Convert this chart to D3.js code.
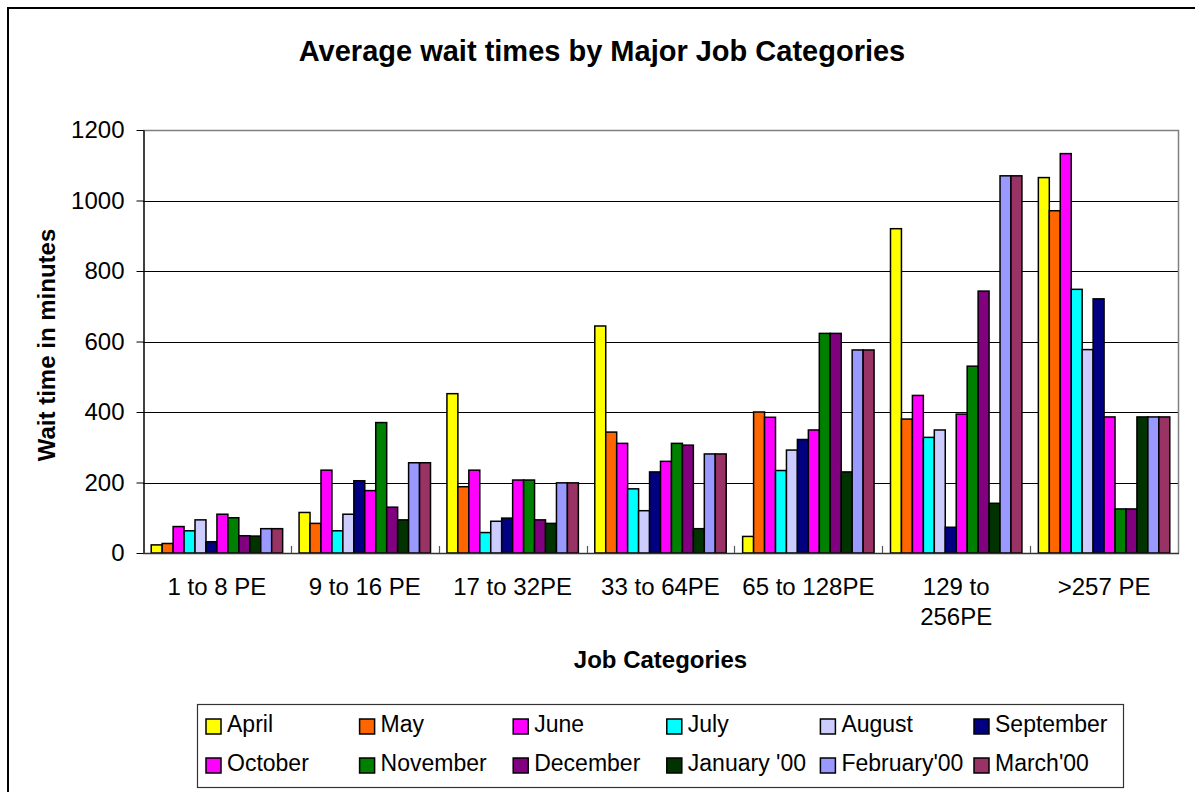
<!DOCTYPE html>
<html>
<head>
<meta charset="utf-8">
<script src="https://cdn.jsdelivr.net/npm/d3@7"></script>
<style>
  body { margin: 0; background: #fff; }
  svg { display: block; font-family: "Liberation Sans", Arial, sans-serif; }
</style>
</head>
<body>
<svg id="chart" width="1195" height="792"></svg>
<script>
// categories and series
const categories = ["1 to 8 PE", "9 to 16 PE", "17 to 32PE", "33 to 64PE", "65 to 128PE", "129 to 256PE", ">257 PE"];
const months = ["April", "May", "June", "July", "August", "September",
                "October", "November", "December", "January '00", "February'00", "March'00"];
const monthColors = ["#FFFF00", "#FF6600", "#FF00FF", "#00FFFF", "#CCCCFF", "#000080",
                     "#FF00FF", "#008000", "#800080", "#003300", "#9999FF", "#993366"];

// one array per month, values per category (minutes)
const april     = [23, 115, 452, 644, 47, 920, 1065];
const may       = [27, 84, 188, 343, 400, 380, 971];
const june      = [75, 235, 235, 311, 385, 447, 1133];
const july      = [63, 63, 58, 182, 234, 328, 748];
const august    = [94, 110, 90, 120, 292, 349, 577];
const september = [32, 205, 99, 230, 322, 73, 721];
const october   = [110, 177, 207, 260, 349, 394, 386];
const november  = [100, 370, 207, 311, 623, 530, 125];
const december  = [49, 130, 94, 306, 623, 743, 125];
const january   = [48, 94, 84, 69, 230, 141, 386];
const february  = [69, 256, 199, 281, 576, 1070, 386];
const march     = [69, 256, 199, 281, 576, 1070, 386];

const series = [april, may, june, july, august, september,
                october, november, december, january, february, march];

const yTicks = [0, 200, 400, 600, 800, 1000, 1200];

const svg = d3.select("#chart");

// outer frame (runs off the right/bottom edge like the original)
svg.append("rect")
    .attr("x", 8).attr("y", 8)
    .attr("width", 1250).attr("height", 850)
    .attr("fill", "none")
    .attr("stroke", "#000")
    .attr("stroke-width", 2);

const plot = { left: 143, right: 1178, top: 130, bottom: 553 };

const x0 = d3.scaleBand()
    .domain(categories)
    .range([plot.left, plot.right])
    .padding(0);

const x1 = d3.scaleBand()
    .domain(months)
    .range([0, x0.bandwidth()])
    .paddingInner(0)
    .paddingOuter(0.75);

const y = d3.scaleLinear()
    .domain([0, 1200])
    .range([plot.bottom, plot.top]);

const color = d3.scaleOrdinal().domain(months).range(monthColors);

// gridlines
svg.append("g")
    .selectAll("line")
    .data(yTicks.filter(d => d > 0 && d < 1200))
    .join("line")
    .attr("x1", plot.left).attr("x2", plot.right)
    .attr("y1", d => Math.round(y(d)) + 0.5)
    .attr("y2", d => Math.round(y(d)) + 0.5)
    .attr("stroke", "#000")
    .attr("stroke-width", 1);

// plot area border top/right
svg.append("path")
    .attr("d", `M${plot.left},${plot.top + 0.5}H${plot.right + 0.5}V${plot.bottom}`)
    .attr("fill", "none")
    .attr("stroke", "#808080")
    .attr("stroke-width", 1.5);

// bars
const groups = svg.append("g")
    .selectAll("g")
    .data(categories)
    .join("g")
    .attr("transform", d => `translate(${x0(d)},0)`);

groups.selectAll("rect")
    .data((c, ci) => months.map((m, mi) => ({ month: m, value: series[mi][ci] })))
    .join("rect")
    .attr("x", d => x1(d.month))
    .attr("y", d => y(d.value))
    .attr("width", x1.bandwidth())
    .attr("height", d => y(0) - y(d.value))
    .attr("fill", d => color(d.month))
    .attr("stroke", "#000")
    .attr("stroke-width", 1.5);

// y axis
const yAxis = svg.append("g")
    .attr("transform", `translate(${plot.left + 0.5},0)`)
    .call(d3.axisLeft(y).tickValues(yTicks).tickFormat(d3.format("d"))
        .tickSize(7).tickPadding(12).tickSizeOuter(0));
yAxis.select(".domain").attr("stroke", "#000").attr("stroke-width", 1.5);
yAxis.selectAll(".tick line").attr("stroke", "#000");
yAxis.selectAll(".tick text")
    .attr("font-family", "Liberation Sans, Arial, sans-serif")
    .attr("font-size", 24)
    .attr("fill", "#000");

// x axis line
svg.append("line")
    .attr("x1", plot.left).attr("x2", plot.right + 1)
    .attr("y1", plot.bottom + 0.5).attr("y2", plot.bottom + 0.5)
    .attr("stroke", "#333")
    .attr("stroke-width", 1.5);

// category boundary ticks (inside)
svg.append("g")
    .selectAll("line")
    .data(categories.slice(1))
    .join("line")
    .attr("x1", d => Math.round(x0(d)) + 0.5)
    .attr("x2", d => Math.round(x0(d)) + 0.5)
    .attr("y1", plot.bottom - 7)
    .attr("y2", plot.bottom)
    .attr("stroke", "#555")
    .attr("stroke-width", 1.2);

// category labels, wrapped when too wide
const catLabels = svg.append("g")
    .selectAll("text")
    .data(categories)
    .join("text")
    .attr("x", d => x0(d) + x0.bandwidth() / 2)
    .attr("y", 595)
    .attr("text-anchor", "middle")
    .attr("font-size", 24)
    .attr("fill", "#000")
    .text(d => d);

catLabels.each(function(d) {
    const t = d3.select(this);
    if (this.getComputedTextLength() <= 138) return;
    const words = d.split(" ");
    t.text(null);
    let line = [];
    let tspan = t.append("tspan").attr("x", t.attr("x"));
    words.forEach(w => {
        line.push(w);
        tspan.text(line.join(" "));
        if (tspan.node().getComputedTextLength() > 138 && line.length > 1) {
            line.pop();
            tspan.text(line.join(" "));
            line = [w];
            tspan = t.append("tspan").attr("x", t.attr("x")).attr("dy", 30).text(w);
        }
    });
});

// titles
svg.append("text")
    .attr("x", 602).attr("y", 61)
    .attr("text-anchor", "middle")
    .attr("font-size", 29)
    .attr("font-weight", "bold")
    .text("Average wait times by Major Job Categories");

svg.append("text")
    .attr("x", (plot.left + plot.right) / 2).attr("y", 668)
    .attr("text-anchor", "middle")
    .attr("font-size", 24)
    .attr("font-weight", "bold")
    .text("Job Categories");

svg.append("text")
    .attr("transform", "translate(55,345) rotate(-90)")
    .attr("text-anchor", "middle")
    .attr("font-size", 24)
    .attr("font-weight", "bold")
    .text("Wait time in minutes");

// legend
const legend = svg.append("g");
legend.append("rect")
    .attr("x", 197.5).attr("y", 704.5)
    .attr("width", 926).attr("height", 83)
    .attr("fill", "#fff")
    .attr("stroke", "#333")
    .attr("stroke-width", 1.2);

const items = legend.selectAll("g")
    .data(months)
    .join("g")
    .attr("transform", (d, i) => `translate(${206 + (i % 6) * 153.6},${719 + Math.floor(i / 6) * 39})`);

items.append("rect")
    .attr("width", 15).attr("height", 15)
    .attr("fill", d => color(d))
    .attr("stroke", "#000")
    .attr("stroke-width", 1.5);

items.append("text")
    .attr("x", 21).attr("y", 13)
    .attr("font-size", 23)
    .attr("fill", "#000")
    .text(d => d);
</script>
</body>
</html>
